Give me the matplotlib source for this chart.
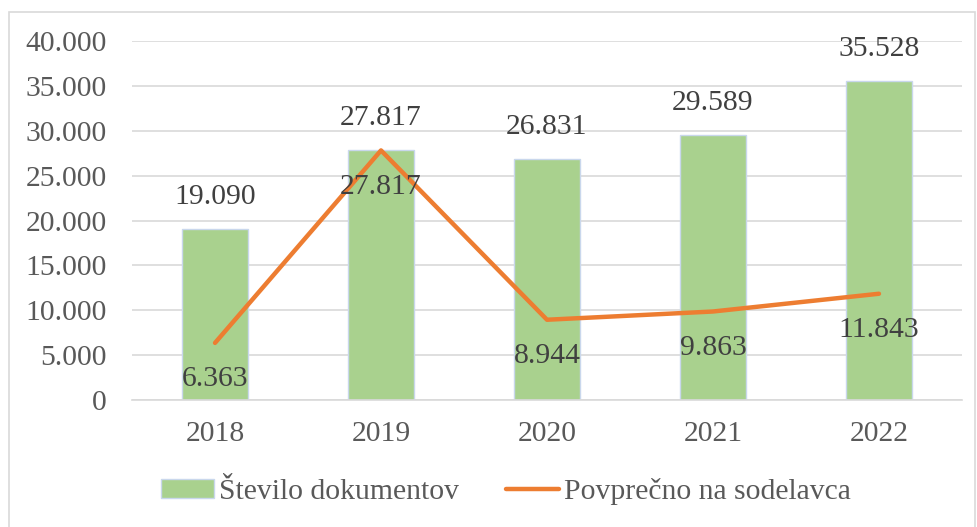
import matplotlib.pyplot as plt
from matplotlib.patches import Rectangle, Patch
from matplotlib.lines import Line2D
from matplotlib.ticker import FuncFormatter

years = ['2018', '2019', '2020', '2021', '2022']
documents = [19090, 27817, 26831, 29589, 35528]
per_employee = [6363, 27817, 8944, 9863, 11843]

plt.rcParams['font.family'] = ['Liberation Serif', 'DejaVu Serif']

def fmt(v):
    return f'{v:,.0f}'.replace(',', '.')

fig = plt.figure(figsize=(9.78, 5.27), dpi=100)
ax = fig.add_axes([0.135, 0.241, 0.8486, 0.681])

x = list(range(len(years)))
ax.bar(x, documents, width=0.4, color='#A9D18E', edgecolor='#C9D7EC', linewidth=1, zorder=2)
ax.plot(x, per_employee, color='#ED7D31', linewidth=3.2, solid_capstyle='round', zorder=3)

for i, v in enumerate(documents):
    ax.annotate(fmt(v), (i, v), xytext=(0, 23), textcoords='offset points',
                ha='center', va='center', fontsize=21.3, color='#404040')
for i, v in enumerate(per_employee):
    ax.annotate(fmt(v), (i, v), xytext=(0, -26), textcoords='offset points',
                ha='center', va='center', fontsize=21.3, color='#404040', zorder=4)

ax.set_xlim(-0.5, 4.5)
ax.set_ylim(0, 40000)
ax.set_yticks(range(0, 40001, 5000))
ax.yaxis.set_major_formatter(FuncFormatter(lambda v, p: fmt(v)))
ax.set_xticks(x)
ax.set_xticklabels(years)
ax.tick_params(axis='both', length=0, labelsize=21.3, labelcolor='#595959')
ax.tick_params(axis='y', pad=18)
ax.tick_params(axis='x', pad=15)
ax.grid(axis='y', color='#D9D9D9', linewidth=1.2, zorder=0)
ax.set_axisbelow(True)
for s in ['top', 'right', 'left']:
    ax.spines[s].set_visible(False)
ax.spines['bottom'].set_color('#D9D9D9')
ax.spines['bottom'].set_linewidth(1.2)

handles = [Patch(facecolor='#A9D18E', edgecolor='#C9D7EC', label='Število dokumentov'),
           Line2D([0], [0], color='#ED7D31', linewidth=3.2, solid_capstyle='round', label='Povprečno na sodelavca')]
fig.legend(handles=handles, loc='center', bbox_to_anchor=(0.517, 0.068), ncol=2, frameon=False,
           fontsize=21.3, labelcolor='#595959', handlelength=1.8, handletextpad=0.15,
           columnspacing=1.6, handleheight=0.6)

fig.patches.append(Rectangle((9 / 978, -0.01), 966 / 978, 1 - 12 / 527 + 0.01, transform=fig.transFigure,
                             fill=False, edgecolor='#D9D9D9', linewidth=1.2))

fig.savefig('out.png', dpi=100)
